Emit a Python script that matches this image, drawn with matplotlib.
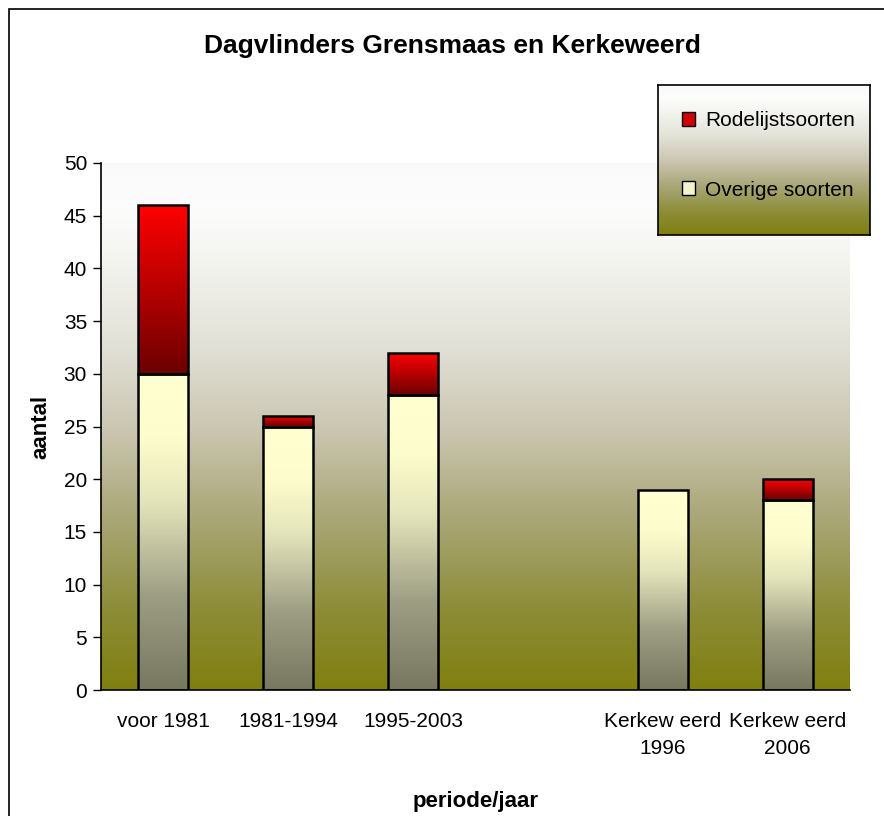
import numpy as np
import matplotlib
matplotlib.use("Agg")
import matplotlib.pyplot as plt
from matplotlib.colors import LinearSegmentedColormap
from matplotlib.patches import Patch, Rectangle

plt.rcParams['font.family'] = ['Liberation Sans', 'DejaVu Sans']

# data
categories = ['voor 1981', '1981-1994', '1995-2003', '', 'Kerkew eerd\n1996', 'Kerkew eerd\n2006']
overige = [30, 25, 28, 0, 19, 18]
rodelijst = [16, 1, 4, 0, 0, 2]
yticks = [0, 5, 10, 15, 20, 25, 30, 35, 40, 45, 50]

# gradients (value 0 = bottom, 1 = top)
bg_cmap = LinearSegmentedColormap.from_list('bg', [
    (0.0, (0.50, 0.50, 0.06)),
    (0.15, (0.55, 0.55, 0.22)),
    (0.35, (0.68, 0.67, 0.50)),
    (0.50, (0.80, 0.78, 0.70)),
    (0.65, (0.88, 0.88, 0.84)),
    (0.80, (0.95, 0.95, 0.93)),
    (0.92, (0.99, 0.99, 0.99)),
    (1.0, (0.98, 0.98, 0.98))])
yellow_cmap = LinearSegmentedColormap.from_list('yel', [
    (0.0, (0.47, 0.47, 0.38)),
    (0.3, (0.62, 0.62, 0.52)),
    (0.6, (0.90, 0.90, 0.74)),
    (0.8, (0.99, 0.99, 0.80)),
    (1.0, (1.0, 1.0, 0.82))])
red_cmap = LinearSegmentedColormap.from_list('red', [
    (0.0, (0.42, 0.0, 0.0)),
    (0.5, (0.72, 0.0, 0.0)),
    (1.0, (1.0, 0.0, 0.0))])
grad = np.linspace(0, 1, 256).reshape(-1, 1)

fig = plt.figure(figsize=(8.84, 8.16), dpi=100)

# outer chart border
fig.add_artist(Rectangle((9 / 884, -0.1), 2.0, 1 - 9 / 816 + 0.1, transform=fig.transFigure,
                         fill=False, edgecolor='black', linewidth=1.2))

ax = fig.add_axes([101 / 884, 1 - 690 / 816, 749 / 884, 527 / 816])
ax.set_xlim(-0.5, len(categories) - 0.5)
ax.set_ylim(0, 50)
ax.imshow(grad, cmap=bg_cmap, origin='lower', aspect='auto',
          extent=[-0.5, len(categories) - 0.5, 0, 50], zorder=0)

x = np.arange(len(categories))
bars_o = ax.bar(x, overige, width=0.4, facecolor='none', edgecolor='black', linewidth=1.8, zorder=3)
bars_r = ax.bar(x, rodelijst, bottom=overige, width=0.4, facecolor='none', edgecolor='black',
                linewidth=1.8, zorder=3)

for bars, cmap in [(bars_o, yellow_cmap), (bars_r, red_cmap)]:
    for b in bars:
        if b.get_height() <= 0:
            b.set_visible(False)
            continue
        x0, y0 = b.get_x(), b.get_y()
        im = ax.imshow(grad, cmap=cmap, origin='lower', aspect='auto',
                       extent=[x0, x0 + b.get_width(), y0, y0 + b.get_height()], zorder=2)
        im.set_clip_path(b)

ax.set_xticks(x)
ax.set_xticklabels(categories, fontsize=15, linespacing=1.5)
ax.tick_params(axis='x', length=0, pad=16)
ax.set_yticks(yticks)
ax.tick_params(axis='y', labelsize=15, length=6, width=1, direction='out', pad=4)
for s in ['top', 'right']:
    ax.spines[s].set_visible(False)
for s in ['left', 'bottom']:
    ax.spines[s].set_linewidth(1.2)

ax.set_ylabel('aantal', fontsize=16, fontweight='bold', labelpad=9)
ax.set_xlabel('periode/jaar', fontsize=16, fontweight='bold', labelpad=24)
fig.text(452 / 884, 1 - 46 / 816, 'Dagvlinders Grensmaas en Kerkeweerd', fontsize=19,
         fontweight='bold', ha='center', va='center')

# legend box with gradient
lax = fig.add_axes([658 / 884, 1 - 235 / 816, 212 / 884, 150 / 816])
lax.imshow(grad, cmap=bg_cmap, origin='lower', aspect='auto', extent=[0, 1, 0, 1])
lax.set_xticks([])
lax.set_yticks([])
for s in lax.spines.values():
    s.set_linewidth(1.2)
handles = [Patch(facecolor='#d00000', edgecolor='black', label='Rodelijstsoorten'),
           Patch(facecolor='#f4f4cc', edgecolor='black', label='Overige soorten')]
lax.legend(handles=handles, loc='center', frameon=False, fontsize=15, labelspacing=2.4,
           handlelength=0.65, handleheight=0.65, handletextpad=0.45,
           bbox_to_anchor=(0.52, 0.53))

fig.savefig('out.png', dpi=100)
